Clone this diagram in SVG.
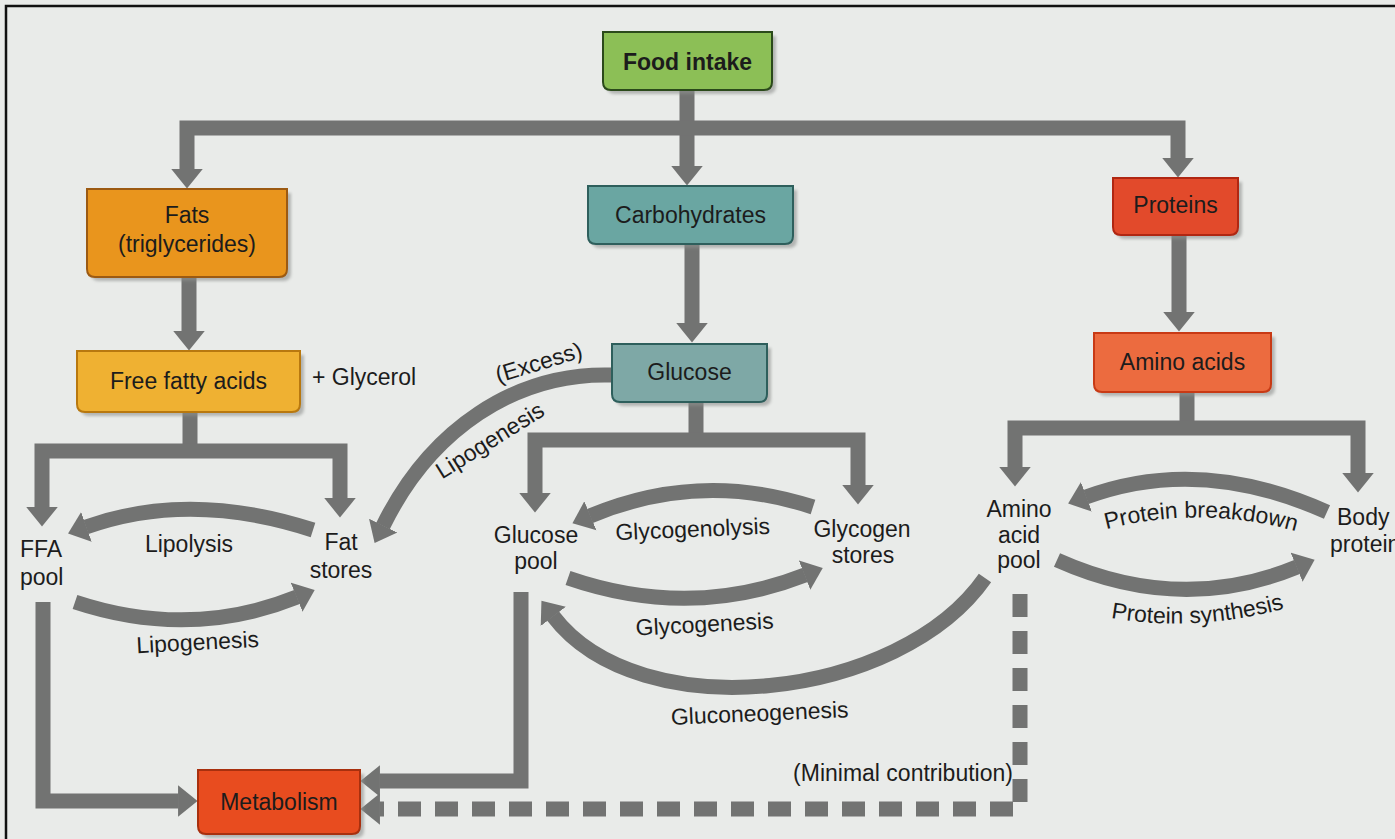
<svg xmlns="http://www.w3.org/2000/svg" width="1395" height="839" viewBox="0 0 1395 839">
  <style>
    .lbl { font-family: "Liberation Sans", Arial, sans-serif; font-size: 23px; fill: #1c1c1c; }
    .mid { text-anchor: middle; }
    .bold { font-weight: bold; }
    .box { stroke-width: 2; }
    .shadow { fill: #8e908e; opacity: 0.6; filter: url(#soft); }
    .flow { fill: none; stroke: #727372; stroke-width: 15; stroke-linejoin: miter; }
    .head { marker-end: url(#ah); }
    .both { marker-start: url(#ah); marker-end: url(#ah); }
    .dash { stroke-dasharray: 23 14; }
  </style>
  <defs>
    <filter id="soft" x="-10%" y="-10%" width="120%" height="130%">
      <feGaussianBlur stdDeviation="1.5"/>
    </filter>
    <marker id="ah" viewBox="0 -1.1 1.35 2.2" refX="0.03" refY="0" markerWidth="1.35" markerHeight="2.2" orient="auto-start-reverse" markerUnits="strokeWidth">
      <path d="M0,-1.05 L1.3,0 L0,1.05 Z" fill="#727372"/>
    </marker>
  </defs>

  <!-- page -->
  <rect x="0" y="0" width="1395" height="839" fill="#e9ebe9"/>
  <path d="M6,839 V6 H1395" fill="none" stroke="#111" stroke-width="2.5"/>

  <!-- connectors -->
  <g id="connectors">
    <!-- food intake split -->
    <path class="flow" d="M687,90 V166.5" marker-end="url(#ah)"/>
    <path class="flow both" d="M187,169.5 V128 H1178 V158.5"/>
    <!-- main chains -->
    <path class="flow head" d="M189,277 V331.5"/>
    <path class="flow head" d="M692,244 V323.5"/>
    <path class="flow head" d="M1179,235 V312.5"/>
    <!-- fat split -->
    <path class="flow" d="M190,412 V452"/>
    <path class="flow both" d="M42,507.5 V451 H340 V498.5"/>
    <!-- glucose split -->
    <path class="flow" d="M696,402 V441"/>
    <path class="flow both" d="M535,493.5 V440 H858 V485.5"/>
    <!-- amino acid split -->
    <path class="flow" d="M1187,392 V429"/>
    <path class="flow both" d="M1015,467.5 V428 H1358 V473.5"/>
    <!-- cycles -->
    <path class="flow head" d="M313,530 Q190,490 86,527"/>
    <path class="flow head" d="M75,602 Q190,640 297,597"/>
    <path class="flow head" d="M813,507 Q700,470 590,516"/>
    <path class="flow head" d="M568,578 Q690,620 805,575"/>
    <path class="flow head" d="M1327,512 Q1200,455 1086,497"/>
    <path class="flow head" d="M1057,560 Q1180,615 1297,567"/>
    <!-- gluconeogenesis -->
    <path class="flow head" d="M985,578 C900,700 640,730 553,616"/>
    <!-- excess lipogenesis -->
    <path class="flow head" d="M612,375 C515,372 430,430 383,526"/>
    <!-- into metabolism -->
    <path class="flow head" d="M43,602 V801 H178.5"/>
    <path class="flow head" d="M521,592 V781 H379.5"/>
    <path class="flow head dash" d="M1020,594 V809 H379.5"/>
  </g>

  <!-- nodes -->
  <g id="food-intake">
    <path class="shadow" transform="translate(4,4)" d="M603,32 H772 V82 Q772,90 764,90 H611 Q603,90 603,82 Z"/>
    <path class="box" fill="#8cbf56" stroke="#2b4a1b" d="M603,32 H772 V82 Q772,90 764,90 H611 Q603,90 603,82 Z"/>
    <text class="lbl mid bold" x="687.5" y="70">Food intake</text>
  </g>
  <g id="fats">
    <path class="shadow" transform="translate(4,4)" d="M87,189 H287 V269 Q287,277 279,277 H95 Q87,277 87,269 Z"/>
    <path class="box" fill="#e9951d" stroke="#9c5a12" d="M87,189 H287 V269 Q287,277 279,277 H95 Q87,277 87,269 Z"/>
    <text class="lbl mid" x="187" y="223">Fats</text>
    <text class="lbl mid" x="187" y="252">(triglycerides)</text>
  </g>
  <g id="free-fatty-acids">
    <path class="shadow" transform="translate(4,4)" d="M77,351 H300 V404 Q300,412 292,412 H85 Q77,412 77,404 Z"/>
    <path class="box" fill="#efb132" stroke="#b8780f" d="M77,351 H300 V404 Q300,412 292,412 H85 Q77,412 77,404 Z"/>
    <text class="lbl mid" x="188.5" y="389">Free fatty acids</text>
  </g>
  <g id="carbohydrates">
    <path class="shadow" transform="translate(4,4)" d="M588,186 H793 V236 Q793,244 785,244 H596 Q588,244 588,236 Z"/>
    <path class="box" fill="#6aa6a2" stroke="#2e5f5c" d="M588,186 H793 V236 Q793,244 785,244 H596 Q588,244 588,236 Z"/>
    <text class="lbl mid" x="690.5" y="223">Carbohydrates</text>
  </g>
  <g id="glucose">
    <path class="shadow" transform="translate(4,4)" d="M612,344 H767 V394 Q767,402 759,402 H620 Q612,402 612,394 Z"/>
    <path class="box" fill="#7ea8a6" stroke="#2e5f5c" d="M612,344 H767 V394 Q767,402 759,402 H620 Q612,402 612,394 Z"/>
    <text class="lbl mid" x="689.5" y="380">Glucose</text>
  </g>
  <g id="proteins">
    <path class="shadow" transform="translate(4,4)" d="M1113,178 H1238 V227 Q1238,235 1230,235 H1121 Q1113,235 1113,227 Z"/>
    <path class="box" fill="#e24a2b" stroke="#b02712" d="M1113,178 H1238 V227 Q1238,235 1230,235 H1121 Q1113,235 1113,227 Z"/>
    <text class="lbl mid" x="1175.5" y="213">Proteins</text>
  </g>
  <g id="amino-acids">
    <path class="shadow" transform="translate(4,4)" d="M1094,333 H1271 V384 Q1271,392 1263,392 H1102 Q1094,392 1094,384 Z"/>
    <path class="box" fill="#ec6b3f" stroke="#c83a15" d="M1094,333 H1271 V384 Q1271,392 1263,392 H1102 Q1094,392 1094,384 Z"/>
    <text class="lbl mid" x="1182.5" y="370">Amino acids</text>
  </g>
  <g id="metabolism">
    <path class="shadow" transform="translate(4,4)" d="M198,770 H360 V826 Q360,834 352,834 H206 Q198,834 198,826 Z"/>
    <path class="box" fill="#e84c1f" stroke="#a8300e" d="M198,770 H360 V826 Q360,834 352,834 H206 Q198,834 198,826 Z"/>
    <text class="lbl mid" x="279" y="810">Metabolism</text>
  </g>

  <g id="glycerol"><text class="lbl" x="312" y="385">+ Glycerol</text></g>
  <g id="ffa-pool">
    <text class="lbl" x="20" y="557">FFA</text>
    <text class="lbl" x="20" y="585">pool</text>
  </g>
  <g id="fat-stores">
    <text class="lbl mid" x="341" y="550">Fat</text>
    <text class="lbl mid" x="341" y="578">stores</text>
  </g>
  <g id="glucose-pool">
    <text class="lbl mid" x="536" y="543">Glucose</text>
    <text class="lbl mid" x="536" y="569">pool</text>
  </g>
  <g id="glycogen-stores">
    <text class="lbl mid" x="862" y="537">Glycogen</text>
    <text class="lbl mid" x="863" y="563">stores</text>
  </g>
  <g id="amino-acid-pool">
    <text class="lbl mid" x="1019" y="517">Amino</text>
    <text class="lbl mid" x="1019" y="543">acid</text>
    <text class="lbl mid" x="1019" y="568">pool</text>
  </g>
  <g id="body-protein">
    <text class="lbl" x="1337" y="525">Body</text>
    <text class="lbl" x="1330" y="552">protein</text>
  </g>

  <!-- process labels -->
  <g id="process-labels">
    <text class="lbl mid" x="189" y="552">Lipolysis</text>
    <text class="lbl mid" transform="translate(198,650) rotate(-3)">Lipogenesis</text>
    <text class="lbl mid" transform="translate(541,370) rotate(-17)">(Excess)</text>
    <text class="lbl mid" transform="translate(494,447) rotate(-32)">Lipogenesis</text>
    <text class="lbl mid" transform="translate(693,537) rotate(-2.5)">Glycogenolysis</text>
    <text class="lbl mid" transform="translate(705,632) rotate(-3)">Glycogenesis</text>
    <text class="lbl mid" transform="translate(760,721) rotate(-2.5)">Gluconeogenesis</text>
    <path id="pb-curve" d="M1100,531 Q1200,503 1302,533" fill="none"/>
    <text class="lbl mid"><textPath href="#pb-curve" startOffset="50%">Protein breakdown</textPath></text>
    <path id="ps-curve" d="M1105,617 Q1195,634 1290,607" fill="none"/>
    <text class="lbl mid"><textPath href="#ps-curve" startOffset="50%">Protein synthesis</textPath></text>
    <text class="lbl mid" x="903" y="781">(Minimal contribution)</text>
  </g>
</svg>
